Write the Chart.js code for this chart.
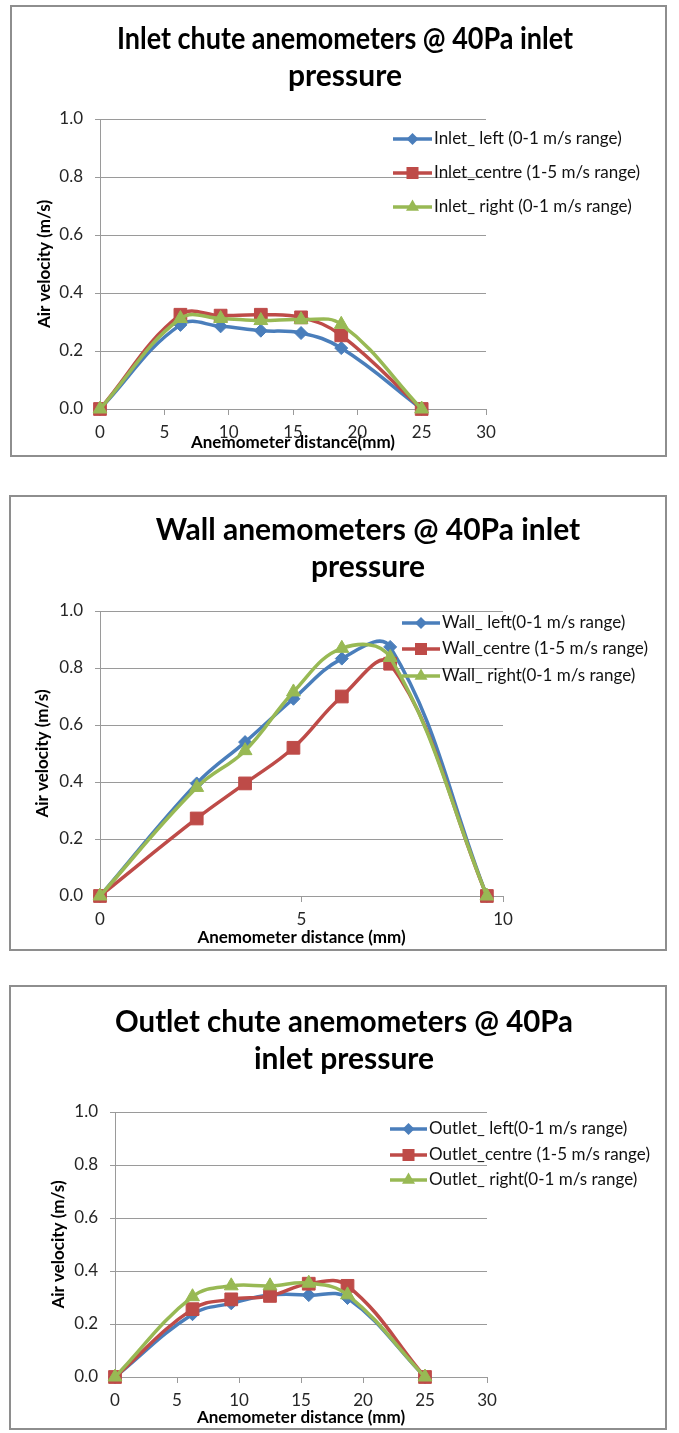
<!DOCTYPE html>
<html>
<head>
<meta charset="utf-8">
<title>Anemometers @ 40Pa inlet pressure</title>
<script src="https://cdn.jsdelivr.net/npm/chart.js@4.4.0/dist/chart.umd.min.js"></script>
<style>
  html, body { margin: 0; padding: 0; background: #fff; }
  body { width: 679px; height: 1433px; position: relative; overflow: hidden; }
  canvas { position: absolute; }
  .box { position: absolute; box-sizing: border-box; border: 2px solid #8e8e8e; pointer-events: none; }
</style>
</head>
<body>
<canvas id="inlet-chart" width="657" height="452" style="left:10px;top:5px;width:657px;height:452px"></canvas>
<div class="box" style="left:10px;top:5px;width:657px;height:452px"></div>

<canvas id="wall-chart" width="658" height="456" style="left:9px;top:495px;width:658px;height:456px"></canvas>
<div class="box" style="left:9px;top:495px;width:658px;height:456px"></div>

<canvas id="outlet-chart" width="658" height="445" style="left:9px;top:985px;width:658px;height:445px"></canvas>
<div class="box" style="left:9px;top:985px;width:658px;height:445px"></div>

<script>
// distances (mm) and velocities (m/s)
const inletX = [0, 6.25, 9.375, 12.5, 15.625, 18.75, 25];
const inletLeft = [0, 0.29, 0.285, 0.27, 0.262, 0.21, 0];
const inletCentre = [0, 0.325, 0.322, 0.325, 0.316, 0.254, 0];
const inletRight = [0, 0.312, 0.312, 0.305, 0.308, 0.292, 0];

const wallX = [0, 2.4, 3.6, 4.8, 6.0, 7.2, 9.6];
const wallLeft = [0, 0.395, 0.54, 0.692, 0.833, 0.874, 0];
const wallCentre = [0, 0.272, 0.395, 0.52, 0.70, 0.815, 0];
const wallRight = [0, 0.381, 0.51, 0.716, 0.869, 0.837, 0];

const outletX = [0, 6.25, 9.375, 12.5, 15.625, 18.75, 25];
const outletLeft = [0, 0.237, 0.278, 0.309, 0.309, 0.298, 0];
const outletCentre = [0, 0.256, 0.293, 0.306, 0.352, 0.344, 0];
const outletRight = [0, 0.303, 0.344, 0.344, 0.354, 0.31, 0];

const velocityTicks = [0, 0.2, 0.4, 0.6, 0.8, 1.0];
const chuteDistanceTicks = [0, 5, 10, 15, 20, 25, 30];
const wallDistanceTicks = [0, 5, 10];

const BLUE = "#4a7ebb";
const RED = "#be4b48";
const GREEN = "#98b954";
const AXIS_GREY = "#9a9a9a";

Chart.defaults.font.family = "Lato, 'Open Sans', sans-serif";
Chart.defaults.color = "#262626";

function drawMarker(ctx, style, x, y, r) {
    ctx.beginPath();
    if (style === "rectRot") {
        ctx.moveTo(x, y - r);
        ctx.lineTo(x + r, y);
        ctx.lineTo(x, y + r);
        ctx.lineTo(x - r, y);
    } else if (style === "rect") {
        let s = r * Math.SQRT1_2;
        ctx.rect(x - s, y - s, 2 * s, 2 * s);
    } else {
        let a = 0;
        for (let k = 0; k < 3; k++) {
            let px = x + Math.sin(a) * r;
            let py = y - Math.cos(a) * r;
            if (k === 0) ctx.moveTo(px, py); else ctx.lineTo(px, py);
            a += Math.PI * 2 / 3;
        }
    }
    ctx.closePath();
    ctx.fill();
}

// legend sits over the right part of the plot, like the Excel original
const sideLegend = {
    id: "sideLegend",
    afterDraw(chart, args, opts) {
        const ctx = chart.ctx;
        ctx.save();
        chart.data.datasets.forEach((ds, i) => {
            const y = opts.rows[i];
            ctx.strokeStyle = ds.borderColor;
            ctx.lineWidth = ds.borderWidth;
            ctx.beginPath();
            ctx.moveTo(opts.lineStart, y);
            ctx.lineTo(opts.lineEnd, y);
            ctx.stroke();
            ctx.fillStyle = ds.backgroundColor;
            drawMarker(ctx, ds.pointStyle, (opts.lineStart + opts.lineEnd) / 2, y, ds.pointRadius - 0.5);
            ctx.fillStyle = "#111";
            ctx.font = "17px Lato, 'Open Sans', sans-serif";
            ctx.textBaseline = "middle";
            ctx.textAlign = "left";
            ctx.fillText(ds.label, opts.textX, y);
        });
        ctx.restore();
    }
};

// title is centred on the whole chart box, not on the padded area
const titleShift = {
    id: "titleShift",
    afterLayout(chart, args, opts) {
        const tb = chart.titleBlock;
        if (!tb || opts.center == null) return;
        const half = (tb.right - tb.left) / 2;
        tb.left = opts.center - half;
        tb.right = opts.center + half;
    }
};

function series(label, xs, ys, color, style, radius, order) {
    return {
        label: label,
        data: xs.map((x, i) => ({ x: x, y: ys[i] })),
        borderColor: color,
        backgroundColor: color,
        borderWidth: 3.5,
        pointStyle: style,
        pointRadius: radius,
        pointHoverRadius: radius,
        pointBorderWidth: 1,
        tension: 0.4,
        clip: false,
        order: order
    };
}

function makeChart(id, g, titleLines, xTitle, xTicks, xMax, datasets, legend) {
    return new Chart(document.getElementById(id), {
        type: "line",
        data: { datasets: datasets },
        plugins: [sideLegend, titleShift],
        options: {
            responsive: false,
            animation: false,
            devicePixelRatio: 1,
            layout: { padding: g.padding },
            plugins: {
                legend: { display: false },
                tooltip: { enabled: false },
                title: {
                    display: true,
                    text: titleLines,
                    color: "#000",
                    font: { size: 30, weight: "bold", lineHeight: 37 / 30 },
                    padding: { top: g.titleTop, bottom: g.titleBottom }
                },
                titleShift: { center: g.titleCenter },
                sideLegend: legend
            },
            scales: {
                x: {
                    type: "linear",
                    min: 0,
                    max: xMax,
                    afterFit: (s) => { s.height = g.xHeight; },
                    afterBuildTicks: (s) => { s.ticks = xTicks.map(v => ({ value: v })); },
                    ticks: { padding: 7.8, font: { size: 17 }, callback: (v) => String(v) },
                    grid: { drawOnChartArea: false, drawTicks: true, tickLength: 6, color: AXIS_GREY },
                    border: { display: true, color: AXIS_GREY, width: 1 },
                    title: {
                        display: true,
                        text: xTitle,
                        color: "#000",
                        font: { size: 17, weight: "bold", lineHeight: 1.2 },
                        padding: { top: 0, bottom: g.xTitlePad }
                    }
                },
                y: {
                    min: 0,
                    max: 1,
                    afterFit: (s) => { s.width = g.yWidth; },
                    afterBuildTicks: (s) => { s.ticks = velocityTicks.map(v => ({ value: v })); },
                    ticks: { padding: 12, font: { size: 17 }, callback: (v) => v.toFixed(1) },
                    grid: { color: AXIS_GREY, tickLength: 5, lineWidth: 1 },
                    border: { display: true, color: AXIS_GREY, width: 1 },
                    title: {
                        display: true,
                        text: "Air velocity (m/s)",
                        color: "#000",
                        font: { size: 17, weight: "bold", lineHeight: 1.2 },
                        padding: { top: g.yTitlePad, bottom: 0 }
                    }
                }
            }
        }
    });
}

makeChart("inlet-chart",
    { padding: { left: 20, right: 181, top: 0, bottom: 3 }, yWidth: 70, yTitlePad: 4.8,
      xHeight: 45, xTitlePad: 0.8, titleTop: 15.5, titleBottom: 24.5, titleCenter: 335 },
    ["Inlet chute anemometers @ 40Pa inlet", "pressure"],
    "Anemometer distance(mm)", chuteDistanceTicks, 30,
    [
        series("Inlet_ left (0-1 m/s range)", inletX, inletLeft, BLUE, "rectRot", 6.5, 3),
        series("Inlet_centre (1-5 m/s range)", inletX, inletCentre, RED, "rect", 9, 2),
        series("Inlet_ right (0-1 m/s range)", inletX, inletRight, GREEN, "triangle", 8, 1)
    ],
    { lineStart: 383, lineEnd: 422, textX: 424, rows: [134, 168, 202] });

makeChart("wall-chart",
    { padding: { left: 20, right: 164, top: 0, bottom: 2 }, yWidth: 71, yTitlePad: 3.8,
      xHeight: 53, xTitlePad: 0.8, titleTop: 16.5, titleBottom: 25.5, titleCenter: 359 },
    ["Wall anemometers @ 40Pa inlet", "pressure"],
    "Anemometer distance (mm)", wallDistanceTicks, 10,
    [
        series("Wall_ left(0-1 m/s range)", wallX, wallLeft, BLUE, "rectRot", 6.5, 3),
        series("Wall_centre (1-5 m/s range)", wallX, wallCentre, RED, "rect", 9, 2),
        series("Wall_ right(0-1 m/s range)", wallX, wallRight, GREEN, "triangle", 8, 1)
    ],
    { lineStart: 393, lineEnd: 431, textX: 433, rows: [128, 154, 181] });

makeChart("outlet-chart",
    { padding: { left: 20, right: 180, top: 0, bottom: 1 }, yWidth: 86, yTitlePad: 19.8,
      xHeight: 52, xTitlePad: 0.8, titleTop: 18.5, titleBottom: 34.5, titleCenter: 335 },
    ["Outlet chute anemometers @ 40Pa", "inlet pressure"],
    "Anemometer distance (mm)", chuteDistanceTicks, 30,
    [
        series("Outlet_ left(0-1 m/s range)", outletX, outletLeft, BLUE, "rectRot", 6.5, 3),
        series("Outlet_centre (1-5 m/s range)", outletX, outletCentre, RED, "rect", 9, 2),
        series("Outlet_ right(0-1 m/s range)", outletX, outletRight, GREEN, "triangle", 8, 1)
    ],
    { lineStart: 381, lineEnd: 418, textX: 420, rows: [144, 170, 195] });
</script>
</body>
</html>
